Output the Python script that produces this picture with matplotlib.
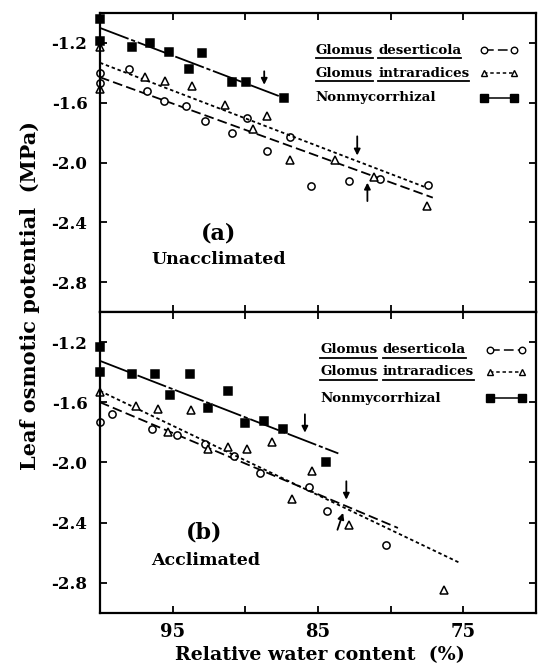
import matplotlib
matplotlib.use('Agg')
import matplotlib.pyplot as plt
from matplotlib.lines import Line2D

plt.rcParams['font.family'] = 'DejaVu Serif'
plt.rcParams['font.weight'] = 'bold'
plt.rcParams['lines.scale_dashes'] = False

# (a) unacclimated
a_des_x = [100, 100, 98.0, 96.8, 95.6, 94.1, 92.75, 90.9, 89.9, 88.5, 86.9, 85.5, 82.9, 80.7, 77.45]
a_des_y = [-1.40, -1.47, -1.375, -1.52, -1.59, -1.62, -1.725, -1.80, -1.705, -1.92, -1.83, -2.158, -2.125, -2.113, -2.152]
a_int_x = [100, 100, 96.9, 95.5, 93.7, 91.4, 89.5, 88.5, 86.9, 83.8, 81.15, 77.5]
a_int_y = [-1.225, -1.51, -1.425, -1.458, -1.488, -1.615, -1.775, -1.688, -1.985, -1.98, -2.098, -2.291]
a_non_x = [100, 100, 97.8, 96.55, 95.25, 93.85, 93.0, 90.95, 89.95, 87.35]
a_non_y = [-1.04, -1.19, -1.225, -1.2, -1.258, -1.373, -1.268, -1.462, -1.46, -1.569]

# fitted lines (end points)
a_des_fit = ([100, 77.1], [-1.43, -2.235])
a_int_fit = ([100, 77.7], [-1.333, -2.162])
a_non_fit = ([100, 87.7], [-1.10, -1.555])
# arrows: (x tail, y tail, x tip, y tip)
a_arrows = [(88.7, -1.39, 88.7, -1.48), (82.3, -1.825, 82.3, -1.953), (81.6, -2.258, 81.6, -2.135)]

# (b) acclimated
b_des_x = [100, 99.2, 96.4, 94.7, 92.8, 90.8, 89.0, 85.65, 84.35, 80.3]
b_des_y = [-1.73, -1.675, -1.775, -1.82, -1.875, -1.955, -2.07, -2.162, -2.325, -2.547]
b_int_x = [100, 97.55, 96.0, 95.3, 93.75, 92.6, 91.2, 89.9, 88.15, 86.8, 85.4, 82.9, 76.3]
b_int_y = [-1.535, -1.625, -1.645, -1.80, -1.65, -1.91, -1.90, -1.91, -1.865, -2.243, -2.055, -2.413, -2.85]
b_non_x = [100, 100, 97.8, 96.2, 95.2, 93.8, 92.6, 91.2, 90.0, 88.7, 87.4, 84.45]
b_non_y = [-1.235, -1.40, -1.41, -1.41, -1.555, -1.415, -1.64, -1.525, -1.74, -1.725, -1.775, -2.0]

b_des_fit = ([100, 79.5], [-1.60, -2.435])
b_int_fit = ([100, 75.2], [-1.525, -2.669])
b_non_fit = ([100, 83.6], [-1.325, -1.94])
b_arrows = [(85.9, -1.68, 85.9, -1.802), (83.05, -2.125, 83.05, -2.247), (83.66, -2.447, 83.27, -2.335)]

x_ticks = [95, 90, 85, 80, 75]
x_labels = ['95', '', '85', '', '75']
y_ticks = [-1.2, -1.6, -2.0, -2.4, -2.8]

legend_names = [['Glomus', 'deserticola'], ['Glomus', 'intraradices'], ['Nonmycorrhizal']]

ls_des = (0, (7, 3))
ls_int = (0, (2.5, 2))
ls_non = (0, (22, 2, 3, 2))

styles = [dict(marker='o', mfc='white', ls=ls_des),
          dict(marker='^', mfc='white', ls=ls_int),
          dict(marker='s', mfc='black', ls=ls_non)]
msizes = [5.2, 5.2, 5.6]

fig = plt.figure(figsize=(5.42, 6.66), dpi=100)
ax1 = fig.add_axes([0.1845, 0.5315, 0.8044, 0.449])
ax2 = fig.add_axes([0.1845, 0.0796, 0.8044, 0.452])
renderer = fig.canvas.get_renderer()


def legend(ax, x0, ys, xm):
    for names, y, st, ms in zip(legend_names, ys, styles, msizes):
        x = x0
        for w in names:
            t = ax.text(x, y, w, transform=ax.transAxes, fontsize=9.6, va='center', ha='left')
            bb = t.get_window_extent(renderer).transformed(ax.transAxes.inverted())
            if len(names) > 1:
                ax.plot([bb.x0, bb.x1], [bb.y0 - 0.004, bb.y0 - 0.004], transform=ax.transAxes,
                         color='black', lw=1.3, clip_on=False)
            x = bb.x1 + 0.012
        ax.add_line(Line2D(xm, [y, y], transform=ax.transAxes, color='black', lw=1.1,
                           linestyle=st['ls'], marker=st['marker'], mfc=st['mfc'],
                           mec='black', ms=ms - 0.5, mew=1.0))


def panel(ax, series, fits, arrows):
    for (xs, ys), fit, st, ms in zip(series, fits, styles, msizes):
        ax.plot(fit[0], fit[1], color='black', lw=1.3, linestyle=st['ls'])
        ax.plot(xs, ys, linestyle='none', marker=st['marker'], mfc=st['mfc'], mec='black',
                ms=ms, mew=1.1, clip_on=False)
    for x0, y0, x1, y1 in arrows:
        ax.annotate('', xy=(x1, y1), xytext=(x0, y0),
                    arrowprops=dict(arrowstyle='-|>', color='black', lw=1.3,
                                    mutation_scale=9, shrinkA=0, shrinkB=0))
    ax.set_xlim(100, 70)
    ax.set_ylim(-3.0, -1.0)
    ax.set_xticks(x_ticks)
    ax.set_yticks(y_ticks)
    ax.set_yticklabels(['%.1f' % v for v in y_ticks])
    ax.tick_params(direction='in', length=5, width=1.3, top=True, right=True,
                   labelsize=12, pad=9)
    for s in ax.spines.values():
        s.set_linewidth(1.6)


panel(ax1, [(a_des_x, a_des_y), (a_int_x, a_int_y), (a_non_x, a_non_y)],
      [a_des_fit, a_int_fit, a_non_fit], a_arrows)
panel(ax2, [(b_des_x, b_des_y), (b_int_x, b_int_y), (b_non_x, b_non_y)],
      [b_des_fit, b_int_fit, b_non_fit], b_arrows)

ax1.set_xticklabels([])
ax2.set_xticklabels(x_labels, fontsize=13)
ax2.tick_params(axis='x', pad=7)

legend(ax1, 0.495, [0.876, 0.799, 0.716], [0.881, 0.950])
legend(ax2, 0.505, [0.874, 0.801, 0.714], [0.895, 0.968])

ax1.text(0.271, 0.264, '(a)', transform=ax1.transAxes, fontsize=16, ha='center', va='center')
ax1.text(0.271, 0.174, 'Unacclimated', transform=ax1.transAxes, fontsize=12.5, ha='center', va='center')
ax2.text(0.239, 0.266, '(b)', transform=ax2.transAxes, fontsize=16, ha='center', va='center')
ax2.text(0.243, 0.176, 'Acclimated', transform=ax2.transAxes, fontsize=12.5, ha='center', va='center')

fig.text(0.055, 0.556, 'Leaf osmotic potential  (MPa)', rotation=90, fontsize=15,
         ha='center', va='center')
fig.text(0.590, 0.0165, 'Relative water content  (%)', fontsize=13.7, ha='center', va='center')

fig.savefig('out.png', dpi=100)
